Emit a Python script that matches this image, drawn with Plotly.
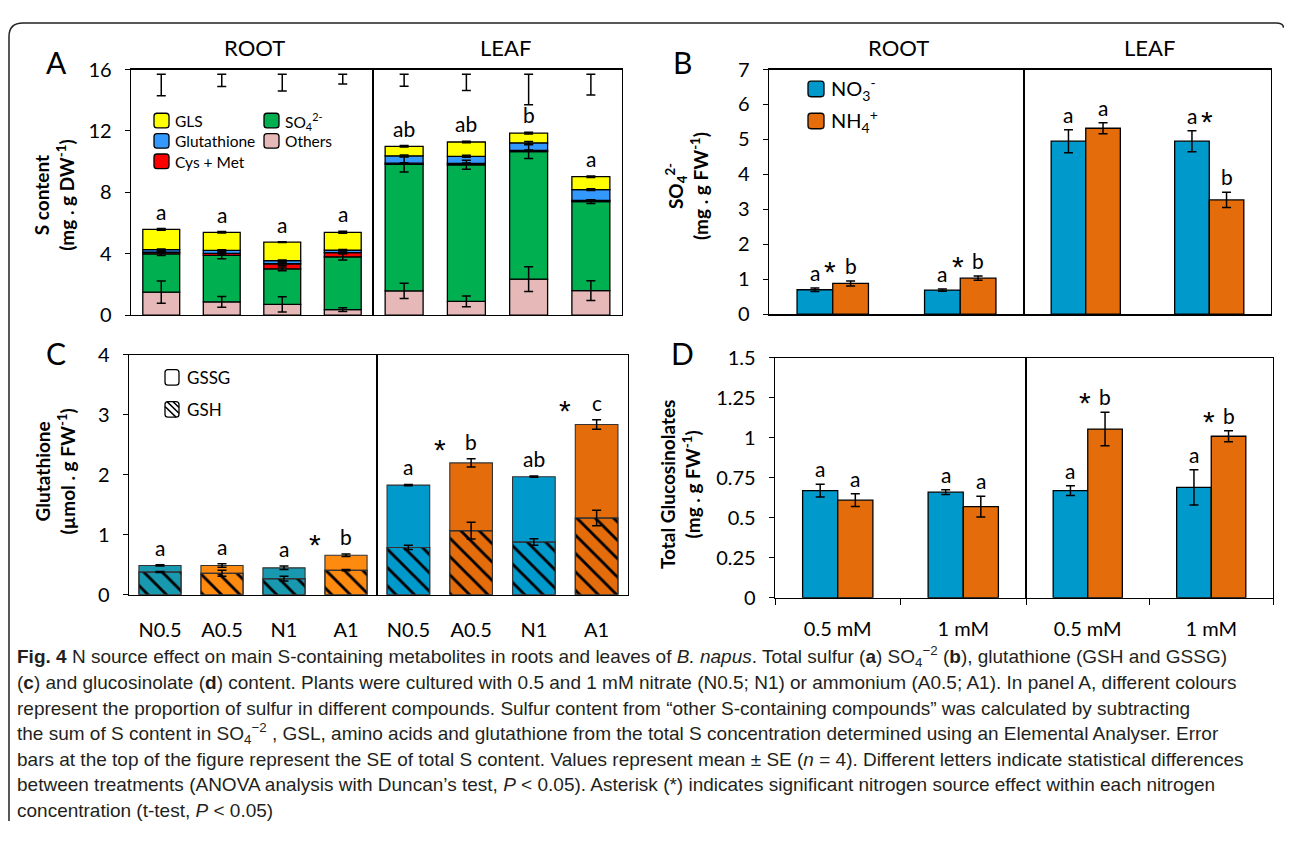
import plotly.graph_objects as go

# page is 1292 x 841; the figure sits inside the default 8 px body margin
PAGE_W, PAGE_H = 1292, 841
OFF = 8
W, H = PAGE_W - 2 * OFF, PAGE_H - 2 * OFF

# ---------------- DATA ----------------
treatments = ["N0.5", "A0.5", "N1", "A1"]
concentrations = ["0.5 mM", "1 mM"]

# Panel A: S content (mg . g DW-1); 8 bars = ROOT (N0.5, A0.5, N1, A1) + LEAF (same)
a_others = [1.50, 0.87, 0.70, 0.36, 1.58, 0.90, 2.35, 1.60]
a_so4 = [2.50, 3.03, 2.32, 3.44, 8.24, 8.90, 8.30, 5.80]
a_cysmet = [0.10, 0.12, 0.33, 0.27, 0.08, 0.08, 0.08, 0.08]
a_glut = [0.17, 0.20, 0.20, 0.17, 0.48, 0.47, 0.50, 0.70]
a_gls = [1.32, 1.18, 1.21, 1.16, 0.62, 0.93, 0.63, 0.84]
a_others_se = [0.72, 0.35, 0.50, 0.12, 0.50, 0.35, 0.80, 0.65]
a_so4_se = [0.12, 0.22, 0.12, 0.20, 0.50, 0.30, 0.45, 0.12]
a_cysmet_se = [0.04, 0.05, 0.10, 0.05, 0.03, 0.03, 0.03, 0.03]
a_glut_se = [0.04, 0.05, 0.05, 0.04, 0.06, 0.06, 0.08, 0.06]
a_gls_se = [0.05, 0.05, 0.03, 0.07, 0.05, 0.05, 0.05, 0.05]
a_total_se = [0.70, 0.40, 0.55, 0.32, 0.39, 0.53, 1.00, 0.68]
a_letters = ["a", "a", "a", "a", "ab", "ab", "b", "a"]

# Panel B: SO4 2- (mg . g FW-1)
b_no3_root = [0.70, 0.69]
b_nh4_root = [0.88, 1.03]
b_no3_leaf = [4.95, 4.95]
b_nh4_leaf = [5.32, 3.27]
b_no3_root_se = [0.05, 0.03]
b_nh4_root_se = [0.07, 0.06]
b_no3_leaf_se = [0.33, 0.30]
b_nh4_leaf_se = [0.16, 0.22]
b_no3_letters = ["a", "a", "a", "a"]
b_nh4_letters = ["b", "b", "a", "b"]
b_stars = [True, True, False, True]

# Panel C: Glutathione (umol . g FW-1): total (GSH + GSSG) and GSH part
c_total = [0.49, 0.49, 0.45, 0.66, 1.83, 2.20, 1.97, 2.84]
c_gsh = [0.38, 0.36, 0.27, 0.41, 0.79, 1.07, 0.88, 1.28]
c_total_se = [0.01, 0.03, 0.03, 0.02, 0.01, 0.07, 0.01, 0.08]
c_gsh_se = [0.01, 0.05, 0.04, 0.01, 0.035, 0.14, 0.055, 0.13]
c_letters = ["a", "a", "a", "b", "a", "b", "ab", "c"]
c_stars = [False, False, False, True, False, True, False, True]

# Panel D: Total glucosinolates (mg . g FW-1)
d_no3_root = [0.67, 0.66]
d_nh4_root = [0.61, 0.57]
d_no3_leaf = [0.67, 0.69]
d_nh4_leaf = [1.055, 1.01]
d_no3_root_se = [0.04, 0.015]
d_nh4_root_se = [0.04, 0.065]
d_no3_leaf_se = [0.03, 0.11]
d_nh4_leaf_se = [0.105, 0.035]
d_no3_letters = ["a", "a", "a", "a"]
d_nh4_letters = ["a", "a", "b", "b"]
d_stars = [False, False, True, True]

# ---------------- STYLE ----------------
FONT = "Lato, 'Open Sans', sans-serif"
STAR_FONT = "'Liberation Sans', Arial, sans-serif"
CAP_FONT = "'Liberation Sans Narrow', 'Liberation Sans', sans-serif"
COL_OTH, COL_SO4, COL_CYS, COL_GLUT, COL_GLS = "#E6B9B8", "#00B050", "#FF0000", "#3399FF", "#FFFF00"
BLUE, ORANGE = "#0099CC", "#E46C0A"
TEAL, ORANGE_L = "#1899B0", "#FF8A10"


def fx(x):
    return (x - OFF) / W


def fy(y):
    return 1 - (y - OFF) / H


def P(x, y):
    return f"{fx(x):.5f},{fy(y):.5f}"


fig = go.Figure()
layout = {}
annotations = []
shapes = []

# ----- axes (page-pixel boxes) -----
panels = [
    # root idx, leaf idx, root x, leaf x, y (top,bottom), range, tickvals, ticktext, ncat, xlabels, boundary ticks
    (1, 2, (131, 373), (373, 622), (58, 311), [0, 16], [0, 4, 8, 12, 16], None, 4, False, False),
    (3, 4, (769, 1024), (1024, 1271), (58, 310), [0, 7], list(range(8)), None, 2, False, False),
    (5, 6, (129, 377), (377, 628), (352, 599), [0, 4], [0, 1, 2, 3, 4], None, 4, True, False),
    (7, 8, (775, 1026), (1026, 1273), (355, 602), [0, 1.5], [0, 0.25, 0.5, 0.75, 1, 1.25, 1.5],
     ["0", "0.25", "0.5", "0.75", "1", "1.25", "1.5"], 2, True, True),
]


def key(prefix, n):
    return f"{prefix}axis" if n == 1 else f"{prefix}axis{n}"


def ref(prefix, n):
    return prefix if n == 1 else f"{prefix}{n}"


for r, l, xr, xl, yp, yrng, tv, tt, ncat, xlab, bnd in panels:
    ydom = [fy(yp[1]), fy(yp[0])]
    base = dict(showline=True, linecolor="black", linewidth=1.3, mirror=True,
                showgrid=False, zeroline=False, fixedrange=True)
    for n, xs in ((r, xr), (l, xl)):
        xa = dict(base, domain=[fx(xs[0]), fx(xs[1])], anchor=ref("y", n), type="category",
                  range=[-0.5, ncat - 0.5], showticklabels=xlab, categoryorder="array",
                  categoryarray=treatments if ncat == 4 else concentrations,
                  tickfont=dict(family=FONT, size=20, color="black"))
        if bnd:
            xa.update(ticks="outside", tickson="boundaries", ticklen=6, tickcolor="black",
                      ticklabelstandoff=13)
        else:
            xa.update(ticks="", ticklabelstandoff=17)
        layout[key("x", n)] = xa
    layout[key("y", r)] = dict(base, domain=ydom, anchor=ref("x", r), range=yrng, tickvals=tv,
                               ticktext=tt if tt else [str(v) for v in tv], ticks="outside",
                               ticklen=5, tickcolor="black", ticklabelstandoff=9,
                               tickfont=dict(family=FONT, size=20, color="black"))
    layout[key("y", l)] = dict(base, domain=ydom, anchor=ref("x", l), range=yrng,
                               showticklabels=False, ticks="")

# ----- Panel A -----
segments = [
    (a_others, a_others_se, COL_OTH),
    (a_so4, a_so4_se, COL_SO4),
    (a_cysmet, a_cysmet_se, COL_CYS),
    (a_glut, a_glut_se, COL_GLUT),
    (a_gls, a_gls_se, COL_GLS),
]
for half, (xa, ya) in enumerate((("x", "y"), ("x2", "y2"))):
    sl = slice(4 * half, 4 * half + 4)
    cum = [0.0] * 4
    tops = []
    for vals, se, col in segments:
        v = vals[sl]
        fig.add_trace(go.Bar(x=treatments, y=v, base=cum, width=0.61, offsetgroup="A",
                             marker=dict(color=col, line=dict(color="black", width=1.3)),
                             xaxis=xa, yaxis=ya, showlegend=False, hoverinfo="skip"))
        cum = [c + vv for c, vv in zip(cum, v)]
        tops.append((list(cum), se[sl]))
    for top, se in tops:
        fig.add_trace(go.Scatter(x=treatments, y=top, mode="markers",
                                 marker=dict(size=1, color="rgba(0,0,0,0)"),
                                 error_y=dict(type="data", array=se, color="black", thickness=1.5, width=4.5),
                                 xaxis=xa, yaxis=ya, showlegend=False, hoverinfo="skip"))
    # SE of total S drawn hanging from the top of the panel
    tse = a_total_se[sl]
    fig.add_trace(go.Scatter(x=treatments, y=[15.7 - s for s in tse], mode="markers",
                             marker=dict(size=1, color="rgba(0,0,0,0)"),
                             error_y=dict(type="data", array=tse, color="black", thickness=1.5, width=4.5),
                             xaxis=xa, yaxis=ya, showlegend=False, hoverinfo="skip"))
    for i in range(4):
        annotations.append(dict(text=a_letters[4 * half + i], x=i, y=cum[i] + a_gls_se[4 * half + i],
                                xref=xa, yref=ya, yanchor="bottom", showarrow=False, yshift=3,
                                font=dict(family=FONT, size=21, color="black")))


def star(xa, ya, x, y):
    annotations.append(dict(text="*", x=x, y=y, xref=xa, yref=ya, yanchor="bottom", showarrow=False,
                            yshift=-9, font=dict(family=STAR_FONT, size=30, color="black")))


# ----- grouped panels B and D -----
def grouped(xa, ya, no3, nh4, no3_se, nh4_se, let_n, let_a, stars):
    for vals, se, col in ((no3, no3_se, BLUE), (nh4, nh4_se, ORANGE)):
        fig.add_trace(go.Bar(x=concentrations, y=vals,
                             marker=dict(color=col, line=dict(color="black", width=1.3)),
                             error_y=dict(type="data", array=se, color="black", thickness=1.5, width=4.5),
                             xaxis=xa, yaxis=ya, showlegend=False, hoverinfo="skip"))
    for j in range(2):
        tn = no3[j] + no3_se[j]
        ta = nh4[j] + nh4_se[j]
        annotations.append(dict(text=let_n[j], x=j - 0.14, y=tn, xref=xa, yref=ya, yanchor="bottom",
                                showarrow=False, yshift=1, font=dict(family=FONT, size=21, color="black")))
        annotations.append(dict(text=let_a[j], x=j + 0.14, y=ta, xref=xa, yref=ya, yanchor="bottom",
                                showarrow=False, yshift=1, font=dict(family=FONT, size=21, color="black")))
        if stars[j]:
            star(xa, ya, j - 0.02, max(tn, ta))


grouped("x3", "y3", b_no3_root, b_nh4_root, b_no3_root_se, b_nh4_root_se, b_no3_letters[:2], b_nh4_letters[:2], b_stars[:2])
grouped("x4", "y4", b_no3_leaf, b_nh4_leaf, b_no3_leaf_se, b_nh4_leaf_se, b_no3_letters[2:], b_nh4_letters[2:], b_stars[2:])
grouped("x7", "y7", d_no3_root, d_nh4_root, d_no3_root_se, d_nh4_root_se, d_no3_letters[:2], d_nh4_letters[:2], d_stars[:2])
grouped("x8", "y8", d_no3_leaf, d_nh4_leaf, d_no3_leaf_se, d_nh4_leaf_se, d_no3_letters[2:], d_nh4_letters[2:], d_stars[2:])

# ----- Panel C -----
for half, (xa, ya, cols) in enumerate((("x5", "y5", [TEAL, ORANGE_L, TEAL, ORANGE_L]),
                                       ("x6", "y6", [BLUE, ORANGE, BLUE, ORANGE]))):
    sl = slice(4 * half, 4 * half + 4)
    gsh = c_gsh[sl]
    tot = c_total[sl]
    # GSH: solid colour, then black hatching on top of it
    fig.add_trace(go.Bar(x=treatments, y=gsh, width=0.68, offsetgroup="C",
                         marker=dict(color=cols, line=dict(color="#333333", width=1.1)),
                         xaxis=xa, yaxis=ya, showlegend=False, hoverinfo="skip"))
    fig.add_trace(go.Bar(x=treatments, y=[t - g for t, g in zip(tot, gsh)], base=gsh, width=0.68,
                         offsetgroup="C", marker=dict(color=cols, line=dict(color="#333333", width=1.1)),
                         xaxis=xa, yaxis=ya, showlegend=False, hoverinfo="skip"))
    fig.add_trace(go.Bar(x=treatments, y=gsh, width=0.68, offsetgroup="C",
                         marker=dict(color="black", line=dict(color="#333333", width=1.1),
                                     pattern=dict(shape="\\", fillmode="replace", size=13, solidity=0.22)),
                         xaxis=xa, yaxis=ya, showlegend=False, hoverinfo="skip"))
    for vals, se in ((gsh, c_gsh_se[sl]), (tot, c_total_se[sl])):
        fig.add_trace(go.Scatter(x=treatments, y=vals, mode="markers",
                                 marker=dict(size=1, color="rgba(0,0,0,0)"),
                                 error_y=dict(type="data", array=se, color="black", thickness=1.5, width=4.5),
                                 xaxis=xa, yaxis=ya, showlegend=False, hoverinfo="skip"))
    for i in range(4):
        top = tot[i] + c_total_se[4 * half + i]
        annotations.append(dict(text=c_letters[4 * half + i], x=i, y=top, xref=xa, yref=ya,
                                yanchor="bottom", showarrow=False, yshift=3,
                                font=dict(family=FONT, size=21, color="black")))
        if c_stars[4 * half + i]:
            star(xa, ya, i - 0.5, top)


# ----- text in page-pixel positions -----
def txt(text, x, y, size, xanchor="center", yanchor="middle", family=FONT, angle=0, color="black"):
    annotations.append(dict(text=text, x=fx(x), y=fy(y), xref="paper", yref="paper", xanchor=xanchor,
                            yanchor=yanchor, showarrow=False, textangle=angle,
                            font=dict(family=family, size=size, color=color)))


for t, x, y in (("A", 56, 50), ("B", 682, 50), ("C", 56, 350), ("D", 682, 350)):
    txt(t, x, y, 30)
for t, x in (("ROOT", 254), ("LEAF", 505), ("ROOT", 898), ("LEAF", 1149)):
    txt(t, x, 35, 22)

txt("<b>S content</b><br><b>(mg . g DW<sup>-1</sup>)</b>", 54, 187, 19, angle=-90)
txt("<b>SO<sub>4</sub><sup>2-</sup></b><br><b>(mg . g FW<sup>-1</sup>)</b>", 687, 178, 19, angle=-90)
txt("<b>Glutathione</b><br><b>(µmol . g FW<sup>-1</sup>)</b>", 55, 472, 19, angle=-90)
txt("<b>Total Glucosinolates</b><br><b>(mg . g FW<sup>-1</sup>)</b>", 680, 485, 19, angle=-90)


def rrect(x0, y0, x1, y1, r=3):
    return (f"M {P(x0 + r, y0)} L {P(x1 - r, y0)} Q {P(x1, y0)} {P(x1, y0 + r)} "
            f"L {P(x1, y1 - r)} Q {P(x1, y1)} {P(x1 - r, y1)} L {P(x0 + r, y1)} "
            f"Q {P(x0, y1)} {P(x0, y1 - r)} L {P(x0, y0 + r)} Q {P(x0, y0)} {P(x0 + r, y0)} Z")


def swatch(x, y, w, h, col):
    shapes.append(dict(type="path", path=rrect(x, y, x + w, y + h), xref="paper", yref="paper",
                       fillcolor=col, line=dict(color="black", width=1.3), layer="above"))


# legend A
for t, col, x, y in (("GLS", COL_GLS, 154, 103), ("SO<sub>4</sub><sup>2-</sup>", COL_SO4, 264, 103),
                     ("Glutathione", COL_GLUT, 154, 124), ("Others", COL_OTH, 264, 124),
                     ("Cys + Met", COL_CYS, 154, 145)):
    swatch(x, y, 15, 15, col)
    txt(t, x + 19, y + 8, 15.5, xanchor="left")
# legend B
for t, col, y in (("NO<sub>3</sub><sup>-</sup>", BLUE, 70), ("NH<sub>4</sub><sup>+</sup>", ORANGE, 103)):
    swatch(808, y, 16, 16, col)
    txt(t, 829, y + 8, 20, xanchor="left")
# legend C
swatch(165, 367, 14, 16, "white")
txt("GSSG", 185, 375, 17, xanchor="left")
swatch(165, 400, 14, 16, "white")
for (xa_, ya_, xb_, yb_) in ((165, 405, 176, 416), (167, 400, 179, 412), (173, 400, 179, 406)):
    shapes.append(dict(type="line", x0=fx(xa_), y0=fy(ya_), x1=fx(xb_), y1=fy(yb_), xref="paper",
                       yref="paper", line=dict(color="black", width=1.5), layer="above"))
txt("GSH", 185, 408, 17, xanchor="left")

# outer rounded frame
shapes.append(dict(type="path", xref="paper", yref="paper", layer="above",
                   path=f"M {P(9, 832)} L {P(9, 24)} Q {P(9, 10)} {P(23, 10)} L {P(1276, 10)} "
                        f"Q {P(1283.5, 10)} {P(1283.5, 15)}",
                   line=dict(color="#222222", width=1.5)))

# caption
caption = [
    "<b>Fig. 4</b> N source effect on main S-containing metabolites in roots and leaves of <i>B. napus</i>. "
    "Total sulfur (<b>a</b>) SO<sub>4</sub><sup>−2</sup> (<b>b</b>), glutathione (GSH and GSSG)",
    "(<b>c</b>) and glucosinolate (<b>d</b>) content. Plants were cultured with 0.5 and 1 mM nitrate "
    "(N0.5; N1) or ammonium (A0.5; A1). In panel A, different colours",
    "represent the proportion of sulfur in different compounds. Sulfur content from “other S-containing "
    "compounds” was calculated by subtracting",
    "the sum of S content in SO<sub>4</sub><sup>−2</sup> , GSL, amino acids and glutathione from the total S "
    "concentration determined using an Elemental Analyser. Error",
    "bars at the top of the figure represent the SE of total S content. Values represent mean ± SE "
    "(<i>n</i> = 4). Different letters indicate statistical differences",
    "between treatments (ANOVA analysis with Duncan’s test, <i>P</i> &lt; 0.05). Asterisk (*) indicates "
    "significant nitrogen source effect within each nitrogen",
    "concentration (t-test, <i>P</i> &lt; 0.05)",
]
for k, line in enumerate(caption):
    txt(line, 15, 663 + 26.3 * k, 19, xanchor="left", family=CAP_FONT, color="#231F20")

fig.update_layout(
    width=W, height=H, margin=dict(l=0, r=0, t=0, b=0),
    paper_bgcolor="white", plot_bgcolor="white",
    barmode="group", bargap=0.44, bargroupgap=0,
    showlegend=False, annotations=annotations, shapes=shapes,
    font=dict(family=FONT, color="black"),
    **layout,
)

fig.write_html("out.html", config={"displayModeBar": False, "staticPlot": True})
